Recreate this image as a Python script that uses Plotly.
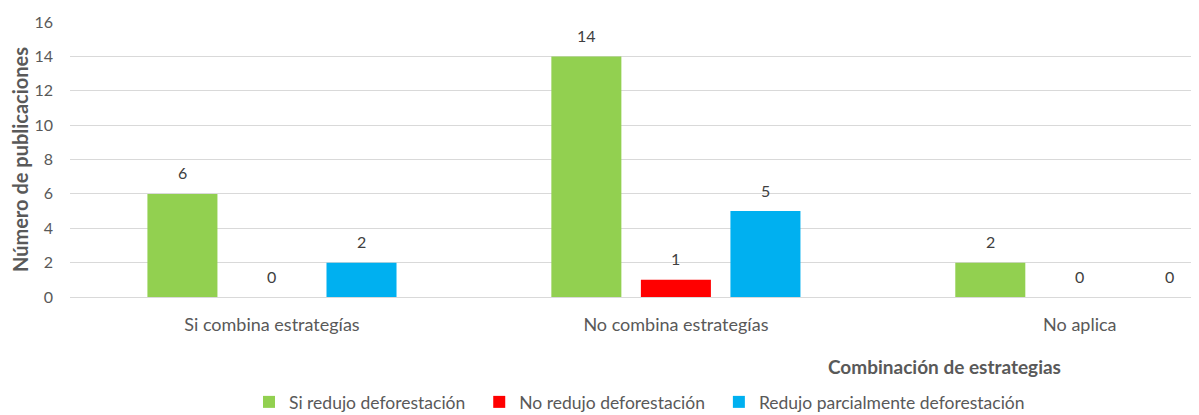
import plotly.graph_objects as go

categories = ["Si combina estrategías", "No combina estrategías", "No aplica"]
si_redujo = [6, 14, 2]
no_redujo = [0, 1, 0]
parcial = [2, 5, 0]
series_names = ["Si redujo deforestación", "No redujo deforestación",
                "Redujo parcialmente deforestación"]
colors = ["#92D050", "#FF0000", "#00B0F0"]

font = "Lato, Open Sans, sans-serif"
gray = "#595959"
bargap = 0.335

# the page body keeps its default 8px margin, so the figure is 16px smaller
W, H = 1191, 407

fig = go.Figure()
all_series = [si_redujo, no_redujo, parcial]
for name, vals, col in zip(series_names, all_series, colors):
    # a couple of non-breaking spaces widen the gap between legend entries
    fig.add_trace(go.Bar(
        x=categories, y=vals, name=name + "\u00a0" * 2, marker_color=col,
        marker_line_width=0,
    ))

# value labels sitting a bit higher above the bars
slot = (1 - bargap) / len(all_series)
for j, vals in enumerate(all_series):
    for i, v in enumerate(vals):
        fig.add_annotation(x=i + (j - 1) * slot, y=v, text=str(v), showarrow=False,
                           yanchor="middle", yshift=21,
                           font=dict(size=16, color="#404040", family=font))

fig.add_annotation(text="<b>Combinación de estrategias</b>", xref="paper", yref="paper",
                   x=0.775, y=-0.2545, showarrow=False, xanchor="center", yanchor="middle",
                   font=dict(size=19, color=gray, family=font))

fig.update_layout(
    width=W, height=H,
    margin=dict(l=62, r=0, t=14, b=118, autoexpand=False),
    plot_bgcolor="white", paper_bgcolor="white",
    barmode="group", bargap=bargap, bargroupgap=0.218,
    font=dict(family=font, size=15, color=gray),
    showlegend=True,
    legend=dict(orientation="h", xref="container", yref="container",
                x=241 / W, xanchor="left", y=1 - 394 / H, yanchor="middle",
                font=dict(size=17.5, color=gray, family=font), itemwidth=30,
                traceorder="normal"),
)
fig.update_xaxes(range=[-0.5, 2.295], showgrid=False, showline=False, ticks="",
                 automargin=False, ticklabelstandoff=15,
                 tickfont=dict(size=18, color=gray))
fig.update_yaxes(range=[0, 16], dtick=2, showgrid=True, gridcolor="#D9D9D9", gridwidth=1,
                 zeroline=True, zerolinecolor="#D9D9D9", zerolinewidth=1,
                 automargin=False,
                 tickfont=dict(size=16, color=gray), ticklabelstandoff=16,
                 title=dict(text="<b>Número de publicaciones</b>", standoff=9,
                            font=dict(size=20, color=gray)))

fig.write_html("out.html")
